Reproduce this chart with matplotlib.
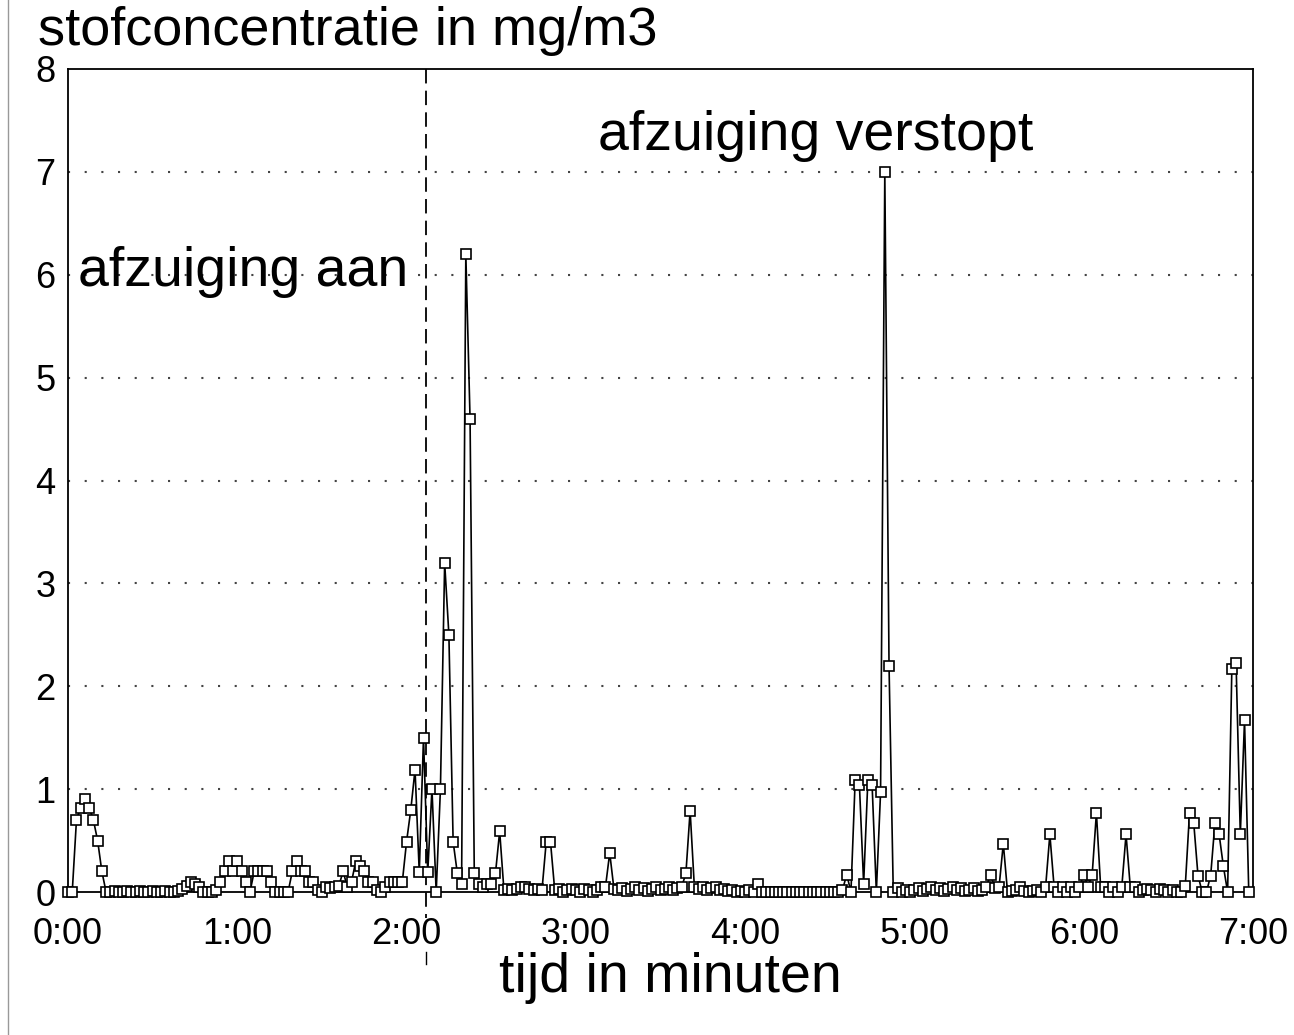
import numpy as np
import matplotlib.pyplot as plt
from matplotlib.lines import Line2D

plt.rcParams['font.family'] = ['Liberation Sans', 'DejaVu Sans']

# dust concentration [mg/m3], one reading every 1.5 s, one list per minute
min_0 = [0, 0, 0.7, 0.82, 0.9, 0.82, 0.7, 0.5, 0.2, 0,
         0, 0.01, 0, 0, 0.01, 0, 0, 0.01, 0, 0,
         0.01, 0, 0, 0.01, 0, 0, 0.01, 0.03, 0.06, 0.1,
         0.08, 0.05, 0, 0, 0, 0.02, 0.1, 0.2, 0.3, 0.2]
min_1 = [0.3, 0.2, 0.1, 0, 0.2, 0.2, 0.2, 0.2, 0.1, 0,
         0, 0, 0, 0.2, 0.3, 0.2, 0.2, 0.1, 0.1, 0.02,
         0, 0.05, 0.04, 0.05, 0.06, 0.2, 0.05, 0.1, 0.3, 0.25,
         0.2, 0.1, 0.1, 0.02, 0, 0.05, 0.1, 0.1, 0.1, 0.1]
min_2 = [0.49, 0.8, 1.19, 0.19, 1.5, 0.19, 1.0, 0, 1.0, 3.2,
         2.5, 0.49, 0.18, 0.08, 6.2, 4.6, 0.18, 0.08, 0.05, 0.08,
         0.08, 0.18, 0.59, 0.02, 0.03, 0.02, 0.03, 0.05, 0.05, 0.03,
         0.02, 0.03, 0.02, 0.49, 0.49, 0.02, 0.03, 0, 0.02, 0.03]
min_3 = [0.02, 0, 0.03, 0.02, 0, 0.02, 0.05, 0.05, 0.38, 0.03,
         0.02, 0.04, 0.01, 0.03, 0.05, 0.02, 0.04, 0.01, 0.03, 0.05,
         0.02, 0.03, 0.05, 0.02, 0.04, 0.05, 0.18, 0.79, 0.05, 0.03,
         0.05, 0.02, 0.04, 0.05, 0.02, 0.03, 0.01, 0.02, 0, 0.01]
min_4 = [0, 0.02, 0, 0.08, 0, 0, 0, 0, 0, 0,
         0, 0, 0, 0, 0, 0, 0, 0, 0, 0,
         0, 0, 0, 0.02, 0.17, 0, 1.09, 1.04, 0.08, 1.09,
         1.04, 0, 0.97, 7.0, 2.2, 0, 0.04, 0, 0.02, 0]
min_5 = [0.02, 0.04, 0.01, 0.03, 0.05, 0.02, 0.04, 0.01, 0.03, 0.05,
         0.02, 0.04, 0.01, 0.02, 0.04, 0.01, 0.02, 0.05, 0.17, 0.04,
         0.05, 0.47, 0, 0.01, 0.02, 0.05, 0.01, 0, 0.01, 0.02,
         0, 0.05, 0.56, 0.05, 0, 0.05, 0, 0.05, 0, 0.05]
min_6 = [0.17, 0.05, 0.17, 0.77, 0.05, 0.05, 0, 0.05, 0, 0.05,
         0.56, 0.05, 0.05, 0, 0.02, 0.03, 0.02, 0, 0.03, 0.02,
         0, 0.02, 0, 0, 0.06, 0.77, 0.67, 0.16, 0, 0,
         0.16, 0.67, 0.56, 0.25, 0, 2.17, 2.23, 0.56, 1.67, 0]

conc = np.array(min_0 + min_1 + min_2 + min_3 + min_4 + min_5 + min_6)
t_sec = np.arange(len(conc)) * 1.5

T_SWITCH = 127      # s, moment "afzuiging aan"
xticks = np.arange(0, 421, 60)
xlabels = ['0:00', '1:00', '2:00', '3:00', '4:00', '5:00', '6:00', '7:00']
yticks = np.arange(0, 9)

fig = plt.figure(figsize=(12.94, 10.35), dpi=100)
ax = fig.add_axes([68 / 1294, 143 / 1035, 1185 / 1294, 823 / 1035])

for y in yticks[1:-1]:
    ax.axhline(y, color='#444444', lw=1.5, linestyle=(0, (1, 7)), zorder=1)

ax.plot(t_sec, conc, '-', color='black', lw=1.2, marker='s', markersize=6.5,
        markerfacecolor='white', markeredgecolor='black', markeredgewidth=1.2,
        zorder=3, clip_on=False)

ax.plot([T_SWITCH, T_SWITCH], [8.0, -0.25], color='black', lw=1.3,
        linestyle=(0, (8, 4)), clip_on=False, zorder=2)
ax.plot([T_SWITCH, T_SWITCH], [-0.58, -0.7], color='black', lw=1.0,
        clip_on=False)

ax.set_xlim(0, 420)
ax.set_ylim(0, 8)
ax.set_xticks(xticks)
ax.set_xticklabels(xlabels)
ax.set_yticks(yticks)
ax.tick_params(axis='both', length=0, labelsize=26)
ax.tick_params(axis='x', pad=18)
ax.tick_params(axis='y', pad=9)
for s in ax.spines.values():
    s.set_linewidth(1.3)

fig.text(38 / 1294, 1 - 45 / 1035, 'stofconcentratie in mg/m3',
         fontsize=39, va='baseline', ha='left')
fig.text(78 / 1294, 1 - 286 / 1035, 'afzuiging aan',
         fontsize=40, va='baseline', ha='left')
fig.text(598 / 1294, 1 - 150 / 1035, 'afzuiging verstopt',
         fontsize=40, va='baseline', ha='left')
fig.text(670 / 1294, 1 - 992 / 1035, 'tijd in minuten',
         fontsize=40, va='baseline', ha='center')

# scan edge on the left
fig.add_artist(Line2D([8 / 1294, 8 / 1294], [0.0, 1.0], color='#999999', lw=1.0))

plt.savefig('out.png', dpi=100)
